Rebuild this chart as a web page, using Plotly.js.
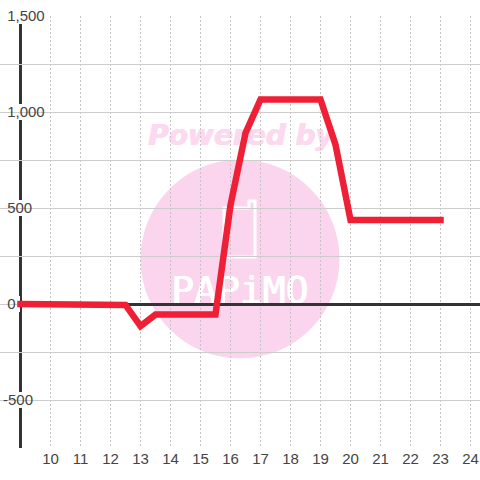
<!DOCTYPE html>
<html>
<head>
<meta charset="utf-8">
<script src="https://cdn.plot.ly/plotly-3.0.1.min.js"></script>
<style>
html,body{margin:0;padding:0;background:#fff}
#c{width:480px;height:480px}
.js-line{stroke-linejoin:miter!important;stroke-linecap:square!important}
</style>
</head>
<body>
<div id="c"></div>
<script>
var hours = [9,10,11,12,12.5,13,13.5,14,15,15.5,16,16.5,17,18,19,19.5,20,21,22,23];
var values = [0,0,0,0,-5,-115,-55,-55,-55,-55,515,890,1065,1065,1065,830,438,438,438,438];
var baselineX = [9,24.4];
var baselineY = [-2,-2];
var xTicks = [10,11,12,13,14,15,16,17,18,19,20,21,22,23,24];
var yTicks = [-750,-500,-250,0,250,500,750,1000,1250,1500];
var yLabels = ['', '-500', '', '\u00a00', '', '\u00a0500', '', '\u00a01,000', '', '\u00a01,500'];
var labelMaskRight = [0, 33, 0, 20, 0, 32, 0, 45, 0, 45];
var watermarkTop = 'Powered by';
var watermarkBrand = 'PAPiMO';

var W = 480, T = 16, H = 432;
function px(x){return (x/W).toFixed(5);}
function py(y){return ((T+H-y)/H).toFixed(5);}
function P(x,y){return px(x)+','+py(y);}

var shapes = [
  {type:'circle',layer:'below',xref:'paper',yref:'paper',
   x0:140.5/W,x1:339.5/W,y0:(T+H-358.5)/H,y1:(T+H-159.5)/H,
   fillcolor:'#fbd5ee',line:{width:0}},
  {type:'rect',layer:'below',xref:'paper',yref:'paper',
   x0:140/W,x1:342/W,y0:(T+H-148)/H,y1:(T+H-119)/H,
   fillcolor:'rgba(0,0,0,0)',line:{width:0},
   label:{text:watermarkTop,textposition:'middle center',
     font:{family:'DejaVu Sans',size:28,color:'#fcd9ef',weight:'bold',style:'italic',
       shadow:'0.5px 0 0 #fcd9ef, -0.5px 0 0 #fcd9ef'}}},
  {type:'rect',layer:'below',xref:'paper',yref:'paper',
   x0:160/W,x1:320/W,y0:(T+H-306)/H,y1:(T+H-268)/H,
   fillcolor:'rgba(0,0,0,0)',line:{width:0},
   label:{text:watermarkBrand,textposition:'middle center',
     font:{family:'DejaVu Sans Mono',size:38,color:'#ffffff',
       shadow:'0.5px 0 0 #ffffff, -0.5px 0 0 #ffffff'}}},
  {type:'path',layer:'below',xref:'paper',yref:'paper',
   path:'M'+P(224,257)+' L'+P(224,208)+' L'+P(249,208)+' L'+P(249,201)+' L'+P(255,201)+' L'+P(255,257)+' Z',
   fillcolor:'rgba(0,0,0,0)',line:{color:'#ffffff',width:3}},
  {type:'line',layer:'between',xref:'x',yref:'paper',x0:9,x1:9,y0:0,y1:1,
   line:{color:'#333333',width:3}}
];
yTicks.forEach(function(v,i){
  if(labelMaskRight[i]>0){
    shapes.push({type:'rect',layer:'between',xref:'paper',yref:'y',
      x0:0,x1:labelMaskRight[i]/W,y0:v-41.67,y1:v+41.67,
      fillcolor:'#ffffff',line:{width:0}});
  }
});

Plotly.newPlot('c',[{
  type:'scatter',mode:'lines',x:baselineX,y:baselineY,
  line:{color:'#333333',width:3},hoverinfo:'skip'
},{
  type:'scatter',mode:'lines',x:hours,y:values,
  line:{color:'#ef1f36',width:6.5,shape:'linear'},hoverinfo:'skip',cliponaxis:false
}],{
  width:480,height:480,
  margin:{l:0,r:0,t:T,b:32,pad:0},
  paper_bgcolor:'#ffffff',plot_bgcolor:'#ffffff',
  showlegend:false,shapes:shapes,
  font:{family:'Liberation Sans',size:15,color:'#444444'},
  xaxis:{range:[8.3167,24.3167],tickmode:'array',tickvals:xTicks,ticktext:xTicks.map(String),
    showgrid:true,gridcolor:'#c4c4c4',gridwidth:1,griddash:'2px,2px',zeroline:false,showline:false,
    ticks:'',tickfont:{size:15,color:'#444444'}},
  yaxis:{range:[-750,1500],tickmode:'array',tickvals:yTicks,ticktext:yLabels,
    ticklabelposition:'inside',ticklabeloverflow:'allow',showgrid:true,gridcolor:'#cccccc',gridwidth:1,
    zeroline:false,showline:false,ticks:'',
    tickfont:{size:15,color:'#444444'}}
},{staticPlot:true,displayModeBar:false});
</script>
</body>
</html>
